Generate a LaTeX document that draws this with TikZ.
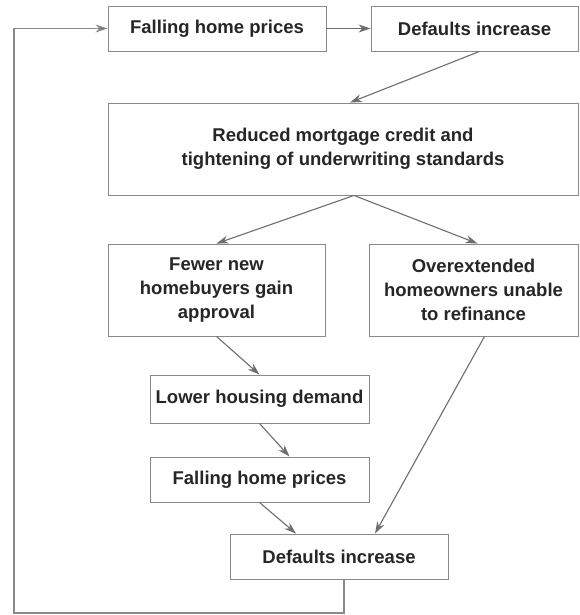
\documentclass[tikz,border=0pt]{standalone}
\usepackage{fontspec}
\setmainfont{Liberation Sans}
\usetikzlibrary{arrows.meta, positioning}
\definecolor{boxgray}{HTML}{8A8A8A}
\definecolor{arrowgray}{HTML}{6E6E6E}
\tikzset{
    stepbox/.style={draw=boxgray, line width=0.9pt, fill=white, align=center,
        inner sep=2pt, text=black!85, font=\fontsize{18.5}{24}\selectfont\bfseries},
    flow/.style={draw=arrowgray, line width=1.1pt, -{Stealth[length=12pt, width=8pt]}},
    loopline/.style={draw=boxgray, line width=1.1pt, -{Stealth[length=12pt, width=8pt, fill=arrowgray]}}
}

\begin{document}
\begin{tikzpicture}[x=1pt, y=-1pt]
    \useasboundingbox (0,0) rectangle (579,615);
    % top row
    \node[stepbox, minimum width=218pt, minimum height=45pt] (fall1) at (217,28.5) {Falling home prices};
    \node[stepbox, minimum width=207pt, minimum height=45pt] (def1) at (474.5,28.5) {Defaults increase};
    % credit
    \node[stepbox, minimum width=470pt, minimum height=92pt] (credit) at (343,149) {Reduced mortgage credit and\\tightening of underwriting standards};
    % two branches
    \node[stepbox, minimum width=217pt, minimum height=92pt] (fewer) at (216.5,290) {Fewer new\\homebuyers gain\\approval};
    \node[stepbox, minimum width=209pt, minimum height=92pt] (over) at (473.5,290) {Overextended\\homeowners unable\\to refinance};
    % chain down
    \node[stepbox, minimum width=219pt, minimum height=48pt] (demand) at (259.5,399) {Lower housing demand};
    \node[stepbox, minimum width=219pt, minimum height=45pt] (fall2) at (259.5,479.5) {Falling home prices};
    \node[stepbox, minimum width=218pt, minimum height=45pt] (def2) at (339,556.5) {Defaults increase};
    \coordinate (corner) at (14,613);

    \draw[flow] (fall1) -- (def1);
    \draw[flow] ([xshift=5pt]def1.south) -- ([xshift=7pt]credit.north);
    \draw[flow] ([xshift=11pt]credit.south) -- (fewer.north);
    \draw[flow] ([xshift=11pt]credit.south) -- ([xshift=4pt]over.north);
    \draw[flow] (fewer.south) -- (demand.north);
    \draw[flow] (demand.south) -- ([xshift=30pt]fall2.north);
    \draw[flow] (fall2.south) -- ([xshift=-43pt]def2.north);
    \draw[flow] ([xshift=11pt]over.south) -- ([xshift=36pt]def2.north);
    % feedback loop
    \draw[loopline] ([xshift=5pt]def2.south) |- (corner) |- (fall1.west);
\end{tikzpicture}
\end{document}
